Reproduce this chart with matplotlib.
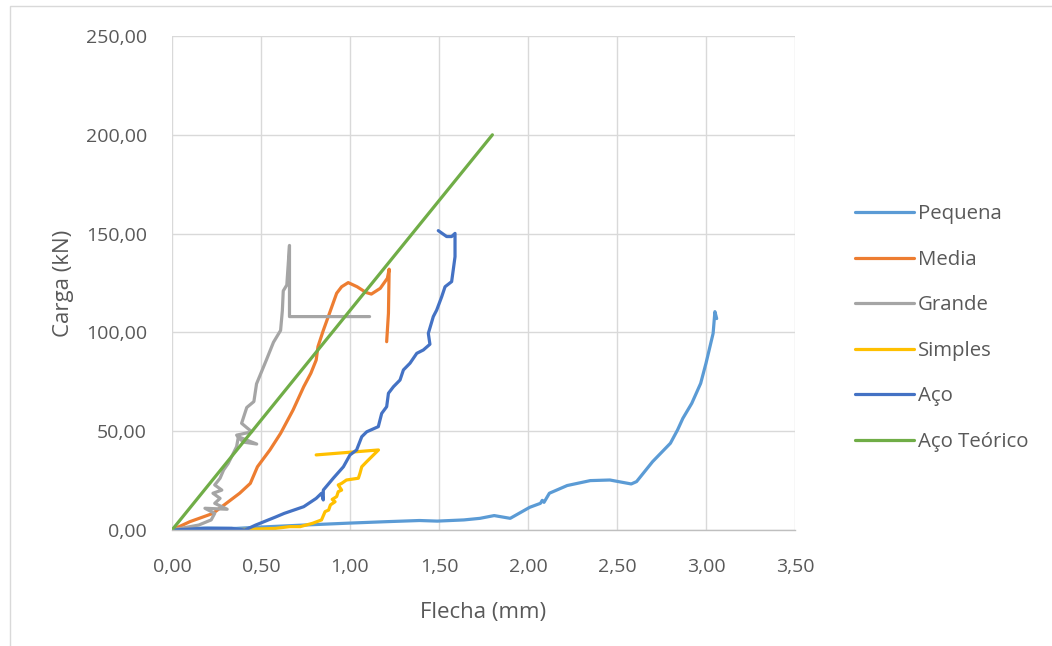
import matplotlib
matplotlib.use('Agg')
import matplotlib.pyplot as plt
from matplotlib.patches import Rectangle
from matplotlib.ticker import FuncFormatter

plt.rcParams['font.family'] = ['Open Sans', 'DejaVu Sans']

# Pequena
peq_x = [0, 0.2, 0.36, 0.5, 0.74, 1.0, 1.2, 1.39, 1.49, 1.64, 1.73, 1.81, 1.9, 2.01, 2.07,
         2.08, 2.09, 2.12, 2.22, 2.35, 2.46, 2.58, 2.61, 2.70, 2.80, 2.84, 2.87, 2.92, 2.97,
         3.0, 3.04, 3.05, 3.06]
peq_y = [0.5, 1.0, 0.8, 1.5, 2.5, 3.5, 4.2, 4.8, 4.5, 5.1, 5.9, 7.3, 5.9, 11.5, 13.5,
         15.0, 14.0, 18.6, 22.5, 25.0, 25.3, 23.3, 24.5, 34.6, 43.9, 50.6, 56.5, 64.1, 74.2,
         84.4, 99.5, 110.5, 107.0]

# Media
med_x = [0, 0.1, 0.23, 0.38, 0.44, 0.48, 0.55, 0.61, 0.68, 0.74, 0.78, 0.81, 0.82, 0.85,
         0.89, 0.925, 0.953, 0.99, 1.04, 1.09, 1.12, 1.17, 1.21, 1.22, 1.216, 1.206]
med_y = [0, 4.2, 8.4, 18.6, 23.6, 32, 40.5, 48.9, 60.7, 72.5, 79.3, 86, 92.8, 101,
         111, 119.8, 123.1, 125.2, 123.1, 120.2, 119.4, 122.3, 127.4, 132, 109.7, 95.3]

# Grande
gra_x = [0, 0.15, 0.22, 0.24, 0.185, 0.31, 0.24, 0.27, 0.23, 0.28, 0.24, 0.27, 0.29, 0.316,
         0.363, 0.373, 0.476, 0.40, 0.363, 0.448, 0.391, 0.42, 0.46, 0.475, 0.53, 0.57, 0.61,
         0.62, 0.625, 0.645, 0.66, 0.66, 1.11]
gra_y = [0, 2.5, 5.1, 8.4, 11, 10.5, 13.5, 16, 18.6, 20.2, 22.8, 26.2, 30.4, 33.7,
         42.2, 47.2, 43.5, 44.5, 48, 49.7, 54, 62, 65, 74, 86, 95, 101,
         111, 121, 124, 144, 108, 108]

# Simples
sim_x = [0, 0.3, 0.58, 0.66, 0.72, 0.79, 0.84, 0.86, 0.88, 0.89, 0.916, 0.9, 0.925, 0.934,
         0.953, 0.934, 0.953, 0.98, 1.047, 1.056, 1.066, 1.094, 1.122, 1.16, 0.81]
sim_y = [0, 0, 0.8, 1.7, 1.7, 3.4, 5.1, 9.3, 10.1, 12.7, 14.3, 15.5, 16.9, 19.4,
         20.2, 22.8, 23.6, 25.3, 26.2, 28.7, 32, 34.6, 37.1, 40.5, 38]

# Aço
aco_x = [0, 0.18, 0.335, 0.41, 0.47, 0.58, 0.63, 0.74, 0.81, 0.84, 0.85, 0.85, 0.906, 0.963,
         1.0, 1.037, 1.066, 1.094, 1.159, 1.178, 1.206, 1.216, 1.244, 1.281, 1.3, 1.337,
         1.375, 1.412, 1.449, 1.44, 1.468, 1.487, 1.515, 1.534, 1.571, 1.58, 1.59, 1.59,
         1.571, 1.543, 1.496]
aco_y = [0, 0.8, 0.8, 0, 2.5, 6.5, 8.4, 11.8, 16, 18.6, 15.2, 20.2, 26.2, 32,
         38, 40.5, 47.2, 49.7, 52.3, 59, 62.4, 69.2, 72.5, 75.9, 81, 84.4,
         89.4, 91.1, 94, 99.5, 108, 111.3, 118, 123.1, 125.7, 131.6, 138.3, 150.1,
         148.5, 148.5, 151.5]

# Aço Teórico
teo_x = [0, 1.8]
teo_y = [0, 200]

series = [
    ('Pequena', peq_x, peq_y, '#5B9BD5'),
    ('Media', med_x, med_y, '#ED7D31'),
    ('Grande', gra_x, gra_y, '#A5A5A5'),
    ('Simples', sim_x, sim_y, '#FFC000'),
    ('Aço', aco_x, aco_y, '#4472C4'),
    ('Aço Teórico', teo_x, teo_y, '#70AD47'),
]

fig = plt.figure(figsize=(10.52, 6.46), dpi=100)
fig.patches.append(Rectangle((10 / 1052, -0.1), 1.2, (646 - 6) / 646 + 0.1,
                             transform=fig.transFigure, fill=False,
                             edgecolor='#D9D9D9', linewidth=1))
ax = fig.add_axes([172 / 1052, 116 / 646, 623 / 1052, 494 / 646])

for name, x, y, col in series:
    ax.plot(x, y, color=col, linewidth=2.3, label=name, solid_capstyle='round',
            solid_joinstyle='round')

ax.set_xlim(0, 3.5)
ax.set_ylim(0, 250)
ax.set_xticks([0, 0.5, 1.0, 1.5, 2.0, 2.5, 3.0, 3.5])
ax.set_yticks([0, 50, 100, 150, 200, 250])
fmt = FuncFormatter(lambda v, p: ('%.2f' % v).replace('.', ','))
ax.xaxis.set_major_formatter(fmt)
ax.yaxis.set_major_formatter(fmt)
ax.grid(True, color='#D9D9D9', linewidth=1)
ax.set_axisbelow(True)
for s in ['top', 'right', 'left']:
    ax.spines[s].set_visible(False)
ax.spines['bottom'].set_color('#BFBFBF')
ax.spines['bottom'].set_linewidth(1)
ax.tick_params(length=0, labelsize=14, colors='#595959')
ax.tick_params(axis='x', pad=20)
ax.tick_params(axis='y', pad=18)

ax.set_xlabel('Flecha (mm)', fontsize=16, color='#595959')
ax.set_ylabel('Carga (kN)', fontsize=16, color='#595959')
ax.xaxis.set_label_coords(0.5, -0.146)
ax.yaxis.set_label_coords(-0.158, 0.5)

fig.legend(loc='center left', bbox_to_anchor=(837 / 1052, 1 - 328 / 646),
           frameon=False, fontsize=14.7, handlelength=2.85, handletextpad=0.2,
           labelspacing=1.25, labelcolor='#595959')

fig.savefig('out.png', dpi=100)
